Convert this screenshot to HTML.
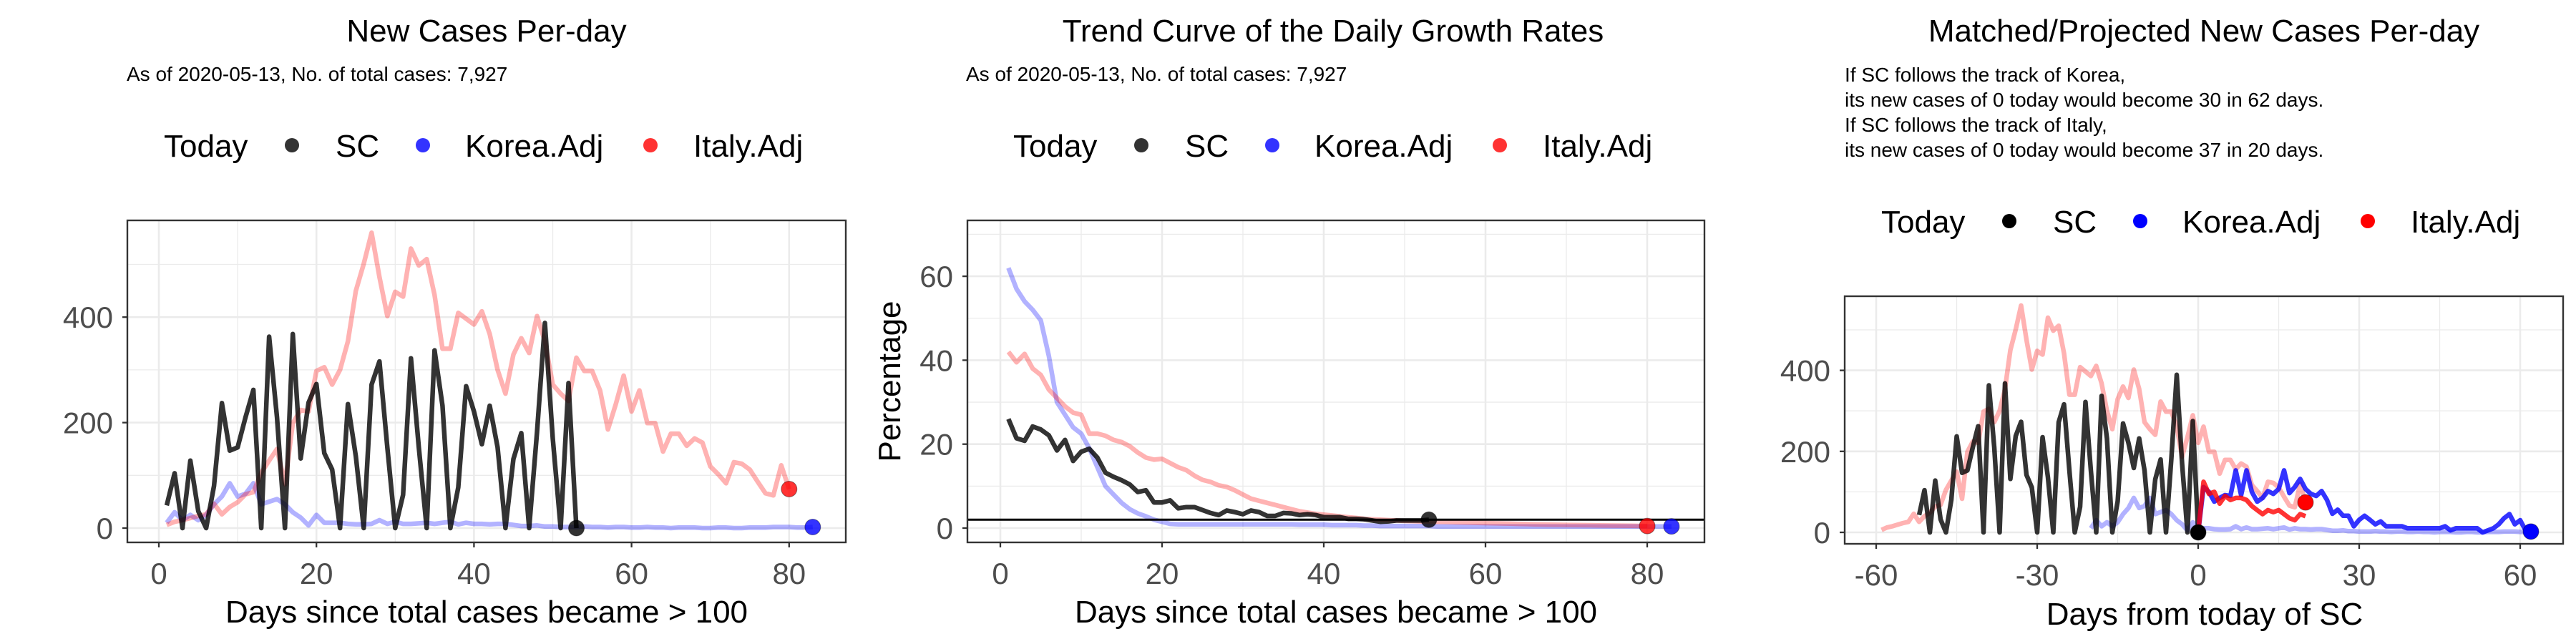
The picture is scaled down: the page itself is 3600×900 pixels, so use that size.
<!DOCTYPE html>
<html><head><meta charset="utf-8"><style>
html,body{margin:0;padding:0;background:#fff;}
svg{display:block;font-family:"Liberation Sans",Arial,sans-serif;}
</style></head><body>
<svg id="root" width="3600" height="900" viewBox="0 0 3600 900" xmlns="http://www.w3.org/2000/svg">
<defs>
<clipPath id="c1"><rect x="178" y="308" width="1004" height="450"/></clipPath>
<clipPath id="c2"><rect x="1352" y="308" width="1030" height="450"/></clipPath>
<clipPath id="c3"><rect x="2578" y="414" width="1004" height="346"/></clipPath>
</defs>
<text x="680" y="58" font-size="44" text-anchor="middle">New Cases Per-day</text>
<text x="177" y="113" font-size="28">As of 2020-05-13, No. of total cases: 7,927</text>
<text x="1863" y="58" font-size="44" text-anchor="middle">Trend Curve of the Daily Growth Rates</text>
<text x="1350" y="113" font-size="28">As of 2020-05-13, No. of total cases: 7,927</text>
<text x="3080" y="58" font-size="44" text-anchor="middle">Matched/Projected New Cases Per-day</text>
<g font-size="28">
<text x="2578" y="114">If SC follows the track of Korea,</text>
<text x="2578" y="149">its new cases of 0 today would become 30 in 62 days.</text>
<text x="2578" y="184">If SC follows the track of Italy,</text>
<text x="2578" y="219">its new cases of 0 today would become 37 in 20 days.</text>
</g>
<g id="legends"></g>
<g id="p1"></g><g id="p2"></g><g id="p3"></g>
<text x="680" y="870" font-size="44" text-anchor="middle">Days since total cases became &gt; 100</text>
<text x="1867" y="870" font-size="44" text-anchor="middle">Days since total cases became &gt; 100</text>
<text x="3081" y="873" font-size="44" text-anchor="middle">Days from today of SC</text>
<text transform="translate(1258,533) rotate(-90)" font-size="44" text-anchor="middle">Percentage</text>
</svg>
<script>
const scNew = [43,104,0,128,32,0,80,237,147,153,210,262,0,363,210,0,368,132,238,273,142,111,0,235,136,0,272,316,153,0,63,322,153,0,337,232,0,77,269,221,159,232,153,0,131,180,0,182,389,170,0,275,0];
const koreaNew = [10,30,15,25,15,25,45,60,85,60,65,85,45,50,55,45,30,20,5,25,10,10,10,8,7,7,8,15,8,12,8,8,9,10,8,10,12,7,10,8,8,7,8,8,6,4,4,5,3,3,2,2,2,3,2,2,1,2,2,1,1,2,1,1,0,1,1,1,0,0,1,1,0,0,1,1,1,2,2,2,1,1,2];
const italyNew = [6,12,15,19,23,26,46,26,40,49,64,68,105,128,150,83,199,224,221,298,305,272,300,354,450,501,560,476,402,448,439,530,498,510,442,340,340,408,397,386,411,368,300,255,329,360,332,402,354,272,255,241,323,298,298,261,187,235,289,221,261,199,199,145,179,179,156,170,162,117,102,85,125,122,111,88,66,62,119,74];
const scGrowth = [26,21.4,20.8,24.2,23.5,22.1,18.5,21,16,18.2,18.9,16.8,13.2,12.2,11.4,10.4,8.6,9,6.1,6.1,6.6,4.7,5,5,4.3,3.6,3.1,4.2,3.8,3.3,4.2,3.8,2.9,2.9,3.6,3.5,3.1,3.3,3.1,2.6,2.6,2.6,2.2,2.2,2.1,1.8,1.5,1.6,1.8,1.8,1.8,1.8,2.0];
const koreaGrowth = [62,57,54,52,49.5,41,30,27,24,22.5,19,14.5,10,8,6,4.5,3.5,2.8,2.0,1.5,1.0,0.9,0.9,0.9,0.9,0.9,0.9,0.9,0.9,0.9,0.9,0.9,0.9,0.9,0.9,0.9,0.8,0.8,0.8,0.8,0.7,0.7,0.7,0.7,0.6,0.6,0.5,0.5,0.5,0.5,0.5,0.5,0.5,0.4,0.4,0.4,0.4,0.4,0.4,0.4,0.4,0.4,0.4,0.4,0.4,0.4,0.4,0.4,0.4,0.4,0.4,0.4,0.4,0.4,0.4,0.4,0.4,0.4,0.4,0.4,0.4,0.4,0.4];
const italyGrowth = [42,39.5,41.5,38,36.5,33,31,29,27.5,27,22.5,22.5,22,21,20.5,19.5,18,16.8,16.3,16.5,15.5,14.5,13.8,12.5,11.5,11,10.2,9.8,9,8,7,6.5,6,5.5,5,4.5,4,3.7,3.4,3.2,3,2.8,2.6,2.4,2.2,2.1,2,1.9,1.8,1.7,1.65,1.6,1.55,1.5,1.45,1.4,1.35,1.3,1.25,1.2,1.15,1.1,1.05,1,0.95,0.9,0.85,0.8,0.78,0.75,0.72,0.7,0.68,0.65,0.62,0.6,0.58,0.55,0.52,0.5];
const koreaProj = [0,112,100,76,85,92,90,153,92,153,100,76,85,102,95,107,153,97,112,132,107,95,90,102,80,46,56,41,41,15,31,41,31,20,27,15,15,15,15,10,10,10,10,10,10,10,15,5,10,10,10,10,10,0,5,10,20,35,45,20,30,5,2];
const italyProj = [0,125,95,100,71,90,80,85,85,80,65,55,45,55,50,55,45,35,30,45,40];
const growthThreshold = 2;
const p1XTicks = [0,20,40,60,80];
const p1YTicks = [0,200,400];
const p2YTicks = [0,20,40,60];
const p3XTicks = [-60,-30,0,30,60];
const scShift = -53, italyShift = -60, koreaShift = -21;

const NS = 'http://www.w3.org/2000/svg';
function mk(tag, attrs, parent){
  const e = document.createElementNS(NS, tag);
  for (const k in attrs) e.setAttribute(k, attrs[k]);
  parent.appendChild(e);
  return e;
}
const P = [
  {g:'p1', x0:178, x1:1182, y0:308, y1:758, sx:d=>222+d*11.01, sy:v=>738-v*0.737, clip:'c1',
   xMaj:p1XTicks, xMin:[10,30,50,70], yMaj:p1YTicks, yMin:[100,300,500], labRight:158, tickSize:42},
  {g:'p2', x0:1352, x1:2382, y0:308, y1:758, sx:d=>1398+d*11.3, sy:v=>738-v*5.865, clip:'c2',
   xMaj:p1XTicks, xMin:[10,30,50,70], yMaj:p2YTicks, yMin:[10,30,50,70], labRight:1332, tickSize:42},
  {g:'p3', x0:2578, x1:3582, y0:414, y1:760, sx:d=>3072+d*7.5, sy:v=>744-v*0.566, clip:'c3',
   xMaj:p3XTicks, xMin:[-45,-15,15,45], yMaj:p1YTicks, yMin:[100,300,500], labRight:2558, tickSize:42}
];
function frame(p, idx){
  const g = document.getElementById(p.g);
  const bg = mk('rect',{x:p.x0,y:p.y0,width:p.x1-p.x0,height:p.y1-p.y0,fill:'#fff'},g);
  
  
  p.yMin.forEach(v=>{ const y=p.sy(v); if(y>p.y0&&y<p.y1){ const l=mk('line',{x1:p.x0,x2:p.x1,y1:y,y2:y,stroke:'#EBEBEB','stroke-width':1.3},g);
    
     }});
  p.xMin.forEach(v=>{ const x=p.sx(v); const l=mk('line',{x1:x,x2:x,y1:p.y0,y2:p.y1,stroke:'#EBEBEB','stroke-width':1.3},g);
    
     });
  p.yMaj.forEach(v=>{ const y=p.sy(v); const l=mk('line',{x1:p.x0,x2:p.x1,y1:y,y2:y,stroke:'#EBEBEB','stroke-width':2.6},g);
    
    
    const t=mk('line',{x1:p.x0-7,x2:p.x0,y1:y,y2:y,stroke:'#333','stroke-width':2.3},g);
    
    
    const lab=mk('text',{x:p.labRight,y:y+15,'font-size':p.tickSize,'text-anchor':'end',fill:'#4D4D4D'},g);
    lab.textContent=v;
    
     });
  p.xMaj.forEach(v=>{ const x=p.sx(v); const l=mk('line',{x1:x,x2:x,y1:p.y0,y2:p.y1,stroke:'#EBEBEB','stroke-width':2.6},g);
    
    
    const t=mk('line',{x1:x,x2:x,y1:p.y1,y2:p.y1+7,stroke:'#333','stroke-width':2.3},g);
    
    
    const lab=mk('text',{x:x,y:p.y1+58,'font-size':p.tickSize,'text-anchor':'middle',fill:'#4D4D4D'},g);
    lab.textContent=v;
    
     });
}
function series(p, vals, shift, start, color, name){
  const g = document.getElementById(p.g);
  let d='';
  vals.forEach((v,i)=>{ if(v==null) return; d += (d?'L':'M') + p.sx(i+start+shift).toFixed(1)+','+p.sy(v).toFixed(1); });
  const e = mk('path',{d:d,fill:'none',stroke:color,'stroke-width':6.5,'stroke-linejoin':'round','clip-path':'url(#'+p.clip+')'},g);
  
  
}
function dot(p, x, v, color, name){
  const g = document.getElementById(p.g);
  const c = mk('circle',{cx:p.sx(x),cy:p.sy(v),r:11,fill:color,stroke:'rgba(0,0,0,0.4)','stroke-width':1},g);
  
  
}
function border(p){
  const g = document.getElementById(p.g);
  const b = mk('rect',{x:p.x0,y:p.y0,width:p.x1-p.x0,height:p.y1-p.y0,fill:'none',stroke:'#333','stroke-width':2.4},g);
  
  
}
P.forEach(frame);
const KF='rgba(0,0,255,0.3)', IF='rgba(255,0,0,0.3)', SCC='rgba(0,0,0,0.8)';
series(P[0], koreaNew, 0, 1, KF, 'korea-new-cases-line');
series(P[0], italyNew, 0, 1, IF, 'italy-new-cases-line');
series(P[0], scNew, 0, 1, SCC, 'sc-new-cases-line');
dot(P[0], scNew.length, scNew[scNew.length-1], 'rgba(0,0,0,0.8)', 'sc-today-point');
dot(P[0], koreaNew.length, koreaNew[koreaNew.length-1], 'rgba(0,0,255,0.8)', 'korea-today-point');
dot(P[0], italyNew.length, italyNew[italyNew.length-1], 'rgba(255,0,0,0.8)', 'italy-today-point');
border(P[0]);
series(P[1], koreaGrowth, 0, 1, KF, 'korea-growth-line');
series(P[1], italyGrowth, 0, 1, IF, 'italy-growth-line');
series(P[1], scGrowth, 0, 1, SCC, 'sc-growth-line');
(function(){ const g=document.getElementById('p2'); const y=P[1].sy(growthThreshold);
  const l=mk('line',{x1:P[1].x0,x2:P[1].x1,y1:y,y2:y,stroke:'#000','stroke-width':3},g);
  
   })();
dot(P[1], scGrowth.length, scGrowth[scGrowth.length-1], 'rgba(0,0,0,0.8)', 'sc-today-point');
dot(P[1], koreaGrowth.length, koreaGrowth[koreaGrowth.length-1], 'rgba(0,0,255,0.8)', 'korea-today-point');
dot(P[1], italyGrowth.length, italyGrowth[italyGrowth.length-1], 'rgba(255,0,0,0.8)', 'italy-today-point');
border(P[1]);
series(P[2], koreaNew, koreaShift, 1, KF, 'korea-matched-line');
series(P[2], italyNew, italyShift, 1, IF, 'italy-matched-line');
series(P[2], scNew, scShift, 1, SCC, 'sc-new-cases-line');
series(P[2], koreaProj, 0, 0, 'rgba(0,0,255,0.8)', 'korea-projection-line');
series(P[2], italyProj, 0, 0, 'rgba(255,0,0,0.8)', 'italy-projection-line');
dot(P[2], 0, 0, '#000', 'sc-today-point');
dot(P[2], koreaNew.length+koreaShift, koreaNew[koreaNew.length-1], '#00f', 'korea-projected-point');
dot(P[2], italyNew.length+italyShift, italyNew[italyNew.length-1], '#f00', 'italy-projected-point');
border(P[2]);
function legend(ox, cy, opaque, idx){
  const g = document.getElementById('legends');
  const t = mk('text',{x:ox+229,y:cy+16,'font-size':44},g);
  t.textContent='Today';
  
  
  const items=[['SC',408,469,opaque?'#000':'rgba(0,0,0,0.8)'],['Korea.Adj',591,650,opaque?'#00f':'rgba(0,0,255,0.8)'],['Italy.Adj',909,969,opaque?'#f00':'rgba(255,0,0,0.8)']];
  items.forEach(it=>{
    const c=mk('circle',{cx:ox+it[1],cy:cy,r:10,fill:it[3]},g);
    
    
    const l=mk('text',{x:ox+it[2],y:cy+16,'font-size':44},g);
    l.textContent=it[0];
    
    
  });
}
legend(0, 203, false, 0);
legend(1187, 203, false, 1);
legend(2400, 309, true, 2);
</script>
</body></html>
